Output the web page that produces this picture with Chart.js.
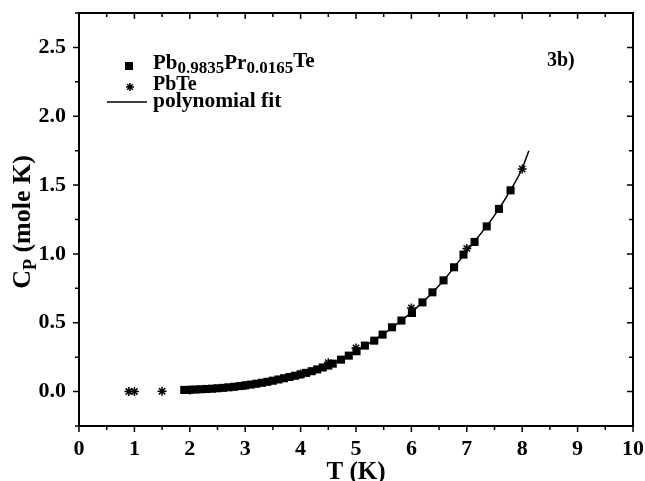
<!DOCTYPE html>
<html>
<head>
<meta charset="utf-8">
<script src="https://cdn.jsdelivr.net/npm/chart.js@4.4.1/dist/chart.umd.min.js"></script>
<style>
  html, body { margin: 0; padding: 0; background: #fff; }
  #wrap { width: 645px; height: 481px; position: relative; }
</style>
</head>
<body>
<div id="wrap"><canvas id="c" width="645" height="481"></canvas></div>
<script>
// ---- data ----
const alloyT  = [1.9, 2.0, 2.1, 2.2, 2.3, 2.4, 2.5, 2.6, 2.7, 2.8, 2.9, 3.0, 3.1, 3.2, 3.3, 3.4, 3.5, 3.6, 3.7, 3.8, 3.9, 4.0, 4.1, 4.2, 4.3, 4.4, 4.5,
                 4.58, 4.73, 4.87, 5.01, 5.16, 5.33, 5.48, 5.65, 5.82, 6.01, 6.20, 6.38, 6.58, 6.77, 6.94, 7.14, 7.36, 7.58, 7.79];
const alloyCp = [0.012, 0.013, 0.015, 0.017, 0.019, 0.021, 0.024, 0.027, 0.031, 0.035, 0.040, 0.045, 0.051, 0.057, 0.064, 0.071, 0.079, 0.088, 0.097, 0.106, 0.115, 0.125, 0.136, 0.148, 0.161, 0.175, 0.189,
                 0.203, 0.232, 0.261, 0.293, 0.334, 0.370, 0.414, 0.467, 0.516, 0.571, 0.648, 0.721, 0.808, 0.903, 0.995, 1.087, 1.200, 1.327, 1.462];
const pbteT   = [0.9, 1.0, 1.5, 2.0, 3.0, 4.0, 4.5, 5.0, 6.0, 7.0, 8.0];
const pbteCp  = [0.0, 0.0, 0.003, 0.012, 0.045, 0.128, 0.21, 0.317, 0.608, 1.04, 1.617];
const fitT    = [1.9, 2.5, 3.0, 3.5, 4.0, 4.5, 5.0, 5.5, 6.0, 6.5, 7.0, 7.5, 7.8, 8.0, 8.12];
const fitCp   = [0.010, 0.024, 0.046, 0.080, 0.128, 0.190, 0.293, 0.420, 0.575, 0.770, 1.020, 1.280, 1.470, 1.620, 1.750];
const xTicks  = [0, 1, 2, 3, 4, 5, 6, 7, 8, 9, 10];
const yTicks  = [0.0, 0.5, 1.0, 1.5, 2.0, 2.5];

const FONT = '"Liberation Serif", "Times New Roman", serif';
const toPts = (xs, ys) => xs.map((x, i) => ({ x: x, y: ys[i] }));

function drawStar(ctx, cx, cy, r) {
  ctx.save();
  ctx.lineWidth = 1.5;
  ctx.beginPath();
  for (let k = 0; k < 4; k++) {
    const ang = k * Math.PI / 4;
    ctx.moveTo(cx - r * Math.cos(ang), cy - r * Math.sin(ang));
    ctx.lineTo(cx + r * Math.cos(ang), cy + r * Math.sin(ang));
  }
  ctx.stroke();
  ctx.restore();
}

const decor = {
  id: 'decor',
  afterDraw(chart) {
    const ctx = chart.ctx, a = chart.chartArea;
    const xs = chart.scales.x, ys = chart.scales.y;
    ctx.save();
    ctx.strokeStyle = '#000';
    ctx.fillStyle = '#000';
    // frame
    ctx.lineWidth = 2;
    ctx.strokeRect(a.left, a.top, a.right - a.left, a.bottom - a.top);
    // x ticks (major every 1, minor every 0.5)
    ctx.lineWidth = 1.5;
    for (let v = 0; v <= 10.001; v += 0.5) {
      const px = xs.getPixelForValue(v);
      const len = Math.abs(v - Math.round(v)) < 1e-6 ? 6 : 4;
      ctx.beginPath();
      ctx.moveTo(px, a.bottom); ctx.lineTo(px, a.bottom + len);
      ctx.moveTo(px, a.top); ctx.lineTo(px, a.top + len);
      ctx.stroke();
    }
    // y ticks (major every 0.5, minor every 0.25)
    for (let v = -0.25; v <= 2.75001; v += 0.25) {
      const py = ys.getPixelForValue(v);
      const major = Math.abs(v * 2 - Math.round(v * 2)) < 1e-6;
      const len = major ? 6 : 4;
      ctx.beginPath();
      ctx.moveTo(a.left, py); ctx.lineTo(a.left - len, py);
      ctx.moveTo(a.right, py); ctx.lineTo(a.right - len, py);
      ctx.stroke();
    }
    // axis titles
    ctx.textBaseline = 'alphabetic';
    ctx.font = 'bold 25px ' + FONT;
    ctx.textAlign = 'center';
    ctx.fillText('T (K)', (a.left + a.right) / 2, 479);
    // y title with subscript
    ctx.save();
    ctx.translate(30, 222);
    ctx.rotate(-Math.PI / 2);
    ctx.textAlign = 'left';
    const tb = 'bold 26px ' + FONT, ts = 'bold 18px ' + FONT;
    ctx.font = tb;
    const wC = ctx.measureText('C').width;
    ctx.font = ts;
    const wP = ctx.measureText('P').width;
    ctx.font = tb;
    const wR = ctx.measureText(' (mole K)').width;
    const x0 = -(wC + wP + wR) / 2;
    ctx.fillText('C', x0, 0);
    ctx.font = ts;
    ctx.fillText('P', x0 + wC, 6);
    ctx.font = tb;
    ctx.fillText(' (mole K)', x0 + wC + wP, 0);
    ctx.restore();

    // legend
    const lx = 153;
    ctx.fillRect(125, 62, 8, 8);
    let x = lx;
    const big = 'bold 21px ' + FONT, small = 'bold 17px ' + FONT;
    const parts = [['Pb', big, 0], ['0.9835', small, 4], ['Pr', big, 0], ['0.0165', small, 4], ['Te', big, -2]];
    ctx.textAlign = 'left';
    parts.forEach(p => {
      ctx.font = p[1];
      ctx.fillText(p[0], x, 69 + p[2]);
      x += ctx.measureText(p[0]).width;
    });
    drawStar(ctx, 130, 87, 4);
    ctx.font = 'bold 20px ' + FONT;
    ctx.fillText('PbTe', lx, 90);
    ctx.lineWidth = 1.5;
    ctx.beginPath(); ctx.moveTo(107, 102); ctx.lineTo(147, 102); ctx.stroke();
    ctx.font = 'bold 21.5px ' + FONT;
    ctx.fillText('polynomial fit', lx, 107);
    // panel label
    ctx.font = 'bold 20px ' + FONT;
    ctx.fillText('3b)', 547, 66);
    ctx.restore();
  }
};

new Chart(document.getElementById('c'), {
  type: 'scatter',
  data: {
    datasets: [
      {
        label: 'polynomial fit',
        type: 'line',
        data: toPts(fitT, fitCp),
        borderColor: '#000',
        borderWidth: 1.5,
        pointRadius: 0,
        fill: false,
        cubicInterpolationMode: 'monotone',
        order: 3
      },
      {
        label: 'Pb0.9835Pr0.0165Te',
        data: toPts(alloyT, alloyCp),
        pointStyle: 'rect',
        pointRadius: 5.7,
        backgroundColor: '#000',
        borderColor: '#000',
        borderWidth: 0,
        order: 2
      },
      {
        label: 'PbTe',
        data: toPts(pbteT, pbteCp),
        pointStyle: 'star',
        pointRadius: 4.5,
        backgroundColor: '#000',
        borderColor: '#000',
        borderWidth: 1.5,
        order: 1
      }
    ]
  },
  options: {
    responsive: false,
    animation: false,
    layout: { padding: { top: 13, right: 12, left: 0, bottom: 0 } },
    plugins: { legend: { display: false }, tooltip: { enabled: false } },
    scales: {
      x: {
        type: 'linear', min: 0, max: 10,
        grid: { display: false, drawTicks: false, tickLength: 0 },
        border: { display: false },
        afterBuildTicks: s => { s.ticks = xTicks.map(v => ({ value: v })); },
        afterFit: s => { s.height = 55; s.paddingLeft = 0; s.paddingRight = 0; },
        ticks: { color: '#000', padding: 10, maxRotation: 0, font: { family: FONT, size: 22, weight: 'bold' }, callback: v => String(v) }
      },
      y: {
        type: 'linear', min: -0.25, max: 2.75,
        grid: { display: false, drawTicks: false, tickLength: 0 },
        border: { display: false },
        afterBuildTicks: s => { s.ticks = yTicks.map(v => ({ value: v })); },
        afterFit: s => { s.width = 79; s.paddingTop = 0; s.paddingBottom = 0; },
        ticks: { color: '#000', padding: 13, font: { family: FONT, size: 22, weight: 'bold' }, callback: v => Number(v).toFixed(1) }
      }
    }
  },
  plugins: [decor]
});
</script>
</body>
</html>
